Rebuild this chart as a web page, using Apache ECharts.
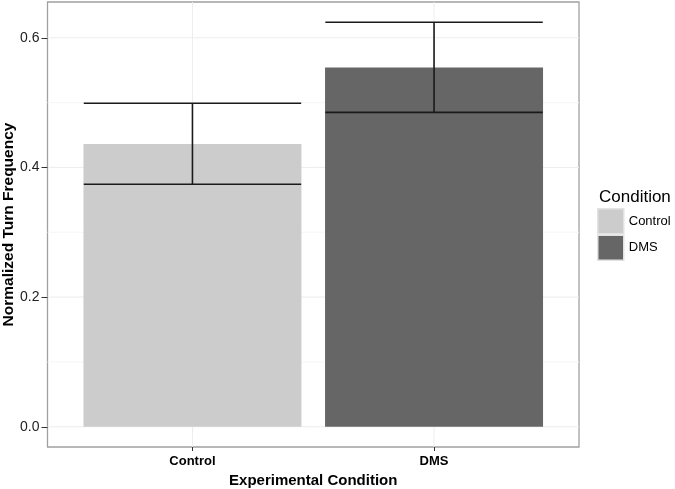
<!DOCTYPE html>
<html>
<head>
<meta charset="utf-8">
<script src="https://cdn.jsdelivr.net/npm/echarts@6/dist/echarts.min.js"></script>
<style>html,body{margin:0;padding:0;background:#fff;}#c{width:675px;height:489px;}</style>
</head>
<body>
<div id="c"></div>
<script>
var categories = ['Control', 'DMS'];
var means = [0.436, 0.554];
var errLow = [0.374, 0.485];
var errHigh = [0.499, 0.624];
var yTicks = [0, 0.2, 0.4, 0.6];
var yMinorGrid = [0.1, 0.3, 0.5];
var colors = ['#cccccc', '#666666'];

var FONT = 'Liberation Sans, Arial, sans-serif';
var chart = echarts.init(document.getElementById('c'), null, {renderer: 'canvas'});

var catPos = categories.map(function (c, i) { return i + 1; });

var barSeries = categories.map(function (c, i) {
  return {
    name: c,
    type: 'bar',
    barWidth: 218,
    barGap: '-100%',
    itemStyle: {color: colors[i]},
    data: [[catPos[i], means[i]]],
    z: 2
  };
});

// grid line specs: [orientation, value, major?]
var gridData = [];
yTicks.forEach(function (v) { gridData.push([0, v, 1]); });
yMinorGrid.forEach(function (v) { gridData.push([0, v, 0]); });
catPos.forEach(function (v) { gridData.push([1, v, 1]); });

var option = {
  backgroundColor: '#ffffff',
  animation: false,
  grid: {left: 47.5, right: 96, top: 2, bottom: 42, containLabel: false, outerBoundsMode: 'none',
    show: true, borderColor: '#a0a0a0', borderWidth: 1.3, backgroundColor: 'transparent'},
  xAxis: {
    type: 'value', min: 0.4, max: 2.6,
    name: 'Experimental Condition', nameLocation: 'middle', nameGap: 24,
    nameTextStyle: {fontFamily: FONT, fontSize: 15, fontWeight: 'bold', color: '#000'},
    axisLine: {show: false, onZero: false},
    axisTick: {show: true, customValues: catPos, length: 4, lineStyle: {color: '#333'}},
    axisLabel: {customValues: catPos, margin: 8, fontFamily: FONT, fontSize: 13, fontWeight: 'bold', color: '#000',
      formatter: function (v) { return categories[Math.round(v) - 1] || ''; }},
    splitLine: {show: false}
  },
  yAxis: {
    type: 'value', min: -0.0312, max: 0.6552,
    name: 'Normalized Turn Frequency', nameLocation: 'middle', nameGap: 31, nameMoveOverlap: false,
    nameTextStyle: {fontFamily: FONT, fontSize: 15.5, fontWeight: 'bold', color: '#000'},
    axisLine: {show: false, onZero: false},
    axisTick: {show: true, customValues: yTicks, length: 6, lineStyle: {color: '#333'}},
    axisLabel: {customValues: yTicks, margin: 8, fontFamily: FONT, fontSize: 14, color: '#222',
      formatter: function (v) { return v.toFixed(1); }},
    splitLine: {show: false}
  },
  legend: {
    data: categories,
    orient: 'vertical',
    left: 597, top: 208, padding: 0,
    itemWidth: 26, itemHeight: 25, itemGap: 0,
    icon: 'rect',
    itemStyle: {borderColor: '#e2e2e2', borderWidth: 1.5},
    textStyle: {fontFamily: FONT, fontSize: 13, color: '#000'}
  },
  graphic: [{
    type: 'text', left: 599, top: 189,
    style: {text: 'Condition', font: '17px ' + FONT, fill: '#000'}
  }],
  series: [{
    type: 'custom', silent: true, z: 0,
    data: gridData,
    encode: {x: -1, y: -1},
    renderItem: function (params, api) {
      var cs = params.coordSys;
      var orient = api.value(0), v = api.value(1), major = api.value(2);
      var color = major ? '#ededed' : '#f6f6f6';
      if (orient === 0) {
        var p = api.coord([1, v]);
        return {type: 'line', shape: {x1: cs.x, y1: p[1], x2: cs.x + cs.width, y2: p[1]}, style: {stroke: color, lineWidth: 1}};
      }
      var q = api.coord([v, 0]);
      return {type: 'line', shape: {x1: q[0], y1: cs.y, x2: q[0], y2: cs.y + cs.height}, style: {stroke: color, lineWidth: 1}};
    }
  }].concat(barSeries).concat([{
    type: 'custom',
    z: 5,
    data: catPos.map(function (x, i) { return [x, errLow[i], errHigh[i]]; }),
    encode: {x: 0, y: [1, 2]},
    renderItem: function (params, api) {
      var x = api.value(0), lo = api.value(1), hi = api.value(2);
      var half = 0.45;
      var style = {stroke: '#1a1a1a', lineWidth: 1.6};
      var a = api.coord([x - half, hi]), b = api.coord([x + half, hi]);
      var c = api.coord([x - half, lo]), d = api.coord([x + half, lo]);
      var t = api.coord([x, hi]), u = api.coord([x, lo]);
      return {type: 'group', children: [
        {type: 'line', shape: {x1: a[0], y1: a[1], x2: b[0], y2: b[1]}, style: style},
        {type: 'line', shape: {x1: c[0], y1: c[1], x2: d[0], y2: d[1]}, style: style},
        {type: 'line', shape: {x1: t[0], y1: t[1], x2: u[0], y2: u[1]}, style: style}
      ]};
    }
  }])
};
chart.setOption(option);
</script>
</body>
</html>
